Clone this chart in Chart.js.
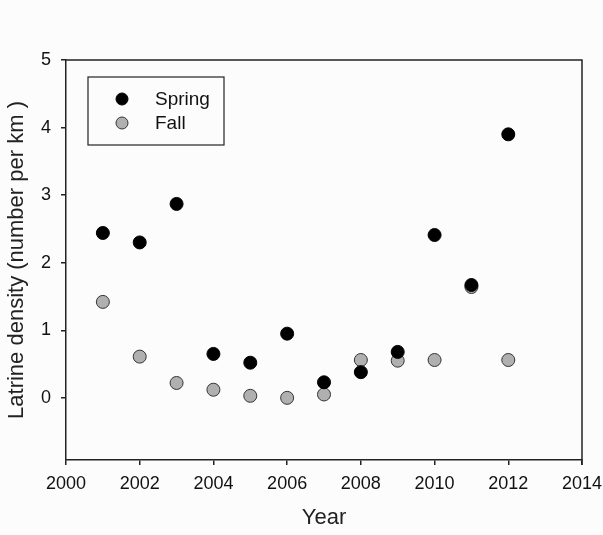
<!DOCTYPE html>
<html>
<head>
<meta charset="utf-8">
<script src="https://cdn.jsdelivr.net/npm/chart.js@4"></script>
<style>
  html, body { margin: 0; padding: 0; background: #fcfcfc; }
  #wrap { width: 603px; height: 535px; }
</style>
</head>
<body>
<div id="wrap"><canvas id="chart" width="603" height="535"></canvas></div>
<script>
// values
const years = [2001, 2002, 2003, 2004, 2005, 2006, 2007, 2008, 2009, 2010, 2011, 2012];
const spring = [2.44, 2.30, 2.87, 0.65, 0.52, 0.95, 0.23, 0.38, 0.68, 2.41, 1.67, 3.90];
const fall = [1.42, 0.61, 0.22, 0.12, 0.03, 0.00, 0.05, 0.56, 0.55, 0.56, 1.64, 0.56];
const yTicks = [0, 1, 2, 3, 4, 5];
const seriesNames = ['Spring', 'Fall'];

const FONT = '"Liberation Sans", Arial, sans-serif';

function pts(vals) {
  return years.map((y, i) => ({ x: y, y: vals[i] }));
}

// frame + legend box drawn inside the plot
const framePlugin = {
  id: 'frame',
  afterDraw(chart) {
    const { ctx, chartArea: a } = chart;
    ctx.save();
    ctx.strokeStyle = '#222';
    ctx.lineWidth = 1.5;
    ctx.beginPath();
    ctx.moveTo(a.left, a.top);
    ctx.lineTo(a.right, a.top);
    ctx.lineTo(a.right, a.bottom + 5);
    ctx.stroke();

    // legend
    ctx.lineWidth = 1.2;
    ctx.strokeRect(88, 77, 136, 68);
    ctx.font = '19px ' + FONT;
    ctx.textBaseline = 'middle';
    chart.data.datasets.forEach((ds, i) => {
      const cy = 99 + i * 24;
      ctx.beginPath();
      ctx.arc(122, cy, 6, 0, Math.PI * 2);
      ctx.fillStyle = ds.backgroundColor;
      ctx.fill();
      ctx.strokeStyle = ds.borderColor;
      ctx.lineWidth = 1;
      ctx.stroke();
      ctx.fillStyle = '#111';
      ctx.fillText(ds.label, 155, cy + 1);
    });
    ctx.restore();
  }
};

new Chart(document.getElementById('chart'), {
  type: 'scatter',
  data: {
    datasets: [{
      label: seriesNames[0],
      data: pts(spring),
      backgroundColor: '#000',
      borderColor: '#000',
      borderWidth: 1,
      pointRadius: 6.5
    }, {
      label: seriesNames[1],
      data: pts(fall),
      backgroundColor: '#b0b0b0',
      borderColor: '#333',
      borderWidth: 1,
      pointRadius: 6.5
    }]
  },
  options: {
    responsive: false,
    animation: false,
    layout: { padding: { top: 60, right: 21, left: 0, bottom: 0 } },
    plugins: { legend: { display: false }, tooltip: { enabled: false } },
    scales: {
      x: {
        type: 'linear',
        min: 2000,
        max: 2014,
        afterFit(s) { s.height = 75; s.paddingLeft = 0; s.paddingRight = 0; },
        ticks: {
          stepSize: 2,
          color: '#111',
          padding: 8,
          font: { family: FONT, size: 18 },
          callback: v => String(v)
        },
        grid: { drawOnChartArea: false, drawTicks: true, tickLength: 5, color: '#222', lineWidth: 1.5 },
        border: { color: '#222', width: 1.5 },
        title: {
          display: true,
          text: 'Year',
          color: '#222',
          font: { family: FONT, size: 22 },
          padding: { top: 10 }
        }
      },
      y: {
        min: -0.92,
        max: 5,
        afterFit(s) { s.width = 66; },
        afterBuildTicks(s) { s.ticks = yTicks.map(v => ({ value: v })); },
        ticks: {
          color: '#111',
          padding: 10,
          font: { family: FONT, size: 18 }
        },
        grid: { drawOnChartArea: false, drawTicks: true, tickLength: 5, color: '#222', lineWidth: 1.5 },
        border: { color: '#222', width: 1.5 },
        title: {
          display: true,
          text: 'Latrine density (number per km )',
          color: '#222',
          font: { family: FONT, size: 22 },
          padding: { top: 4, bottom: 4 }
        }
      }
    }
  },
  plugins: [framePlugin]
});
</script>
</body>
</html>
